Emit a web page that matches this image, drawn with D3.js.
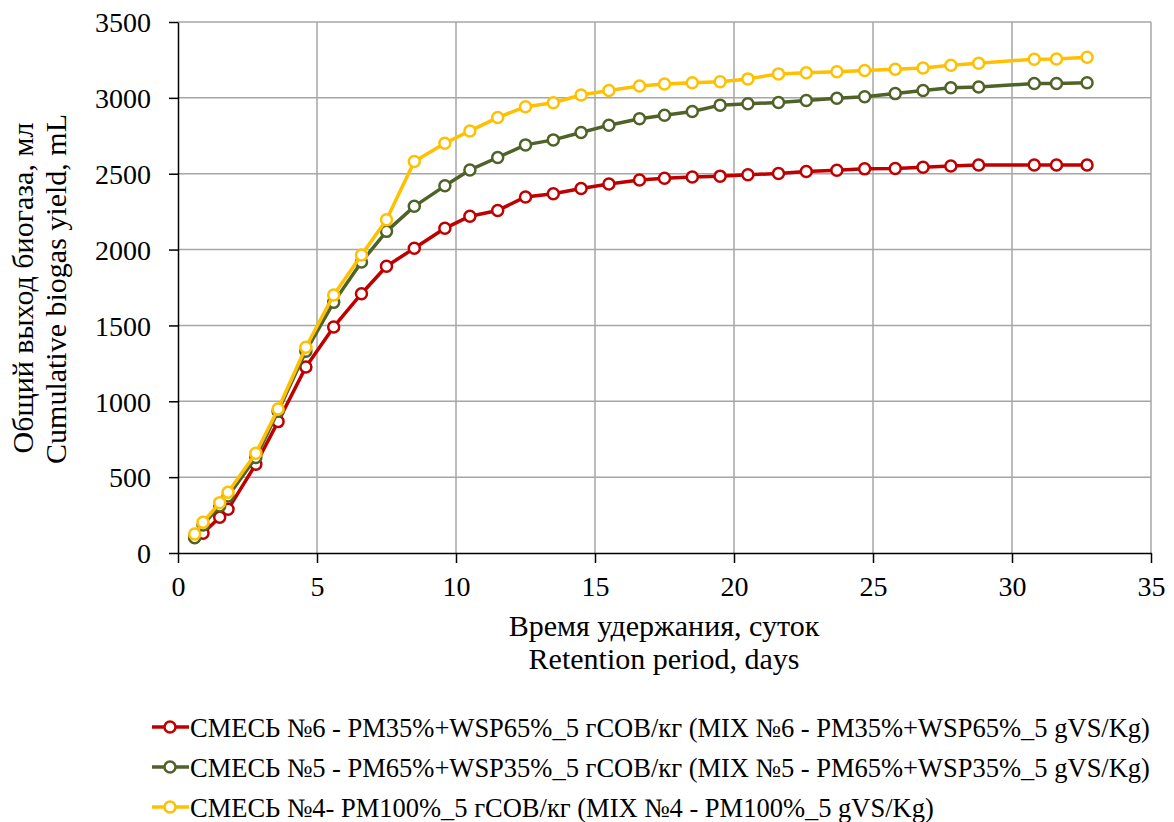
<!DOCTYPE html>
<html><head><meta charset="utf-8">
<script src="https://cdn.jsdelivr.net/npm/d3@7"></script>
<style>body{margin:0;background:#fff}svg{display:block}</style>
</head><body><svg id="c" width="1174" height="822"></svg>
<script>
const days = [0.6,0.9,1.5,1.8,2.8,3.6,4.6,5.6,6.6,7.5,8.5,9.6,10.5,11.5,12.5,13.5,14.5,15.5,16.6,17.5,18.5,19.5,20.5,21.6,22.6,23.7,24.7,25.8,26.8,27.8,28.8,30.8,31.6,32.7];
const mix6 = [105,130,235,288,585,866,1226,1490,1709,1890,2009,2140,2220,2258,2347,2368,2402,2432,2459,2470,2478,2484,2493,2502,2515,2523,2532,2534,2543,2551,2557,2558,2558,2558];
const mix5 = [100,185,310,375,630,935,1330,1652,1918,2120,2285,2420,2525,2607,2690,2723,2772,2820,2862,2886,2910,2952,2961,2970,2982,2998,3007,3028,3048,3066,3072,3094,3095,3100];
const mix4 = [125,202,332,400,657,949,1356,1701,1964,2196,2580,2701,2782,2870,2942,2968,3019,3048,3078,3092,3100,3106,3125,3158,3166,3172,3180,3189,3197,3215,3228,3255,3256,3268];
const xTicks = [0,5,10,15,20,25,30,35];
const yTicks = [0,500,1000,1500,2000,2500,3000,3500];
const seriesNames = [
 "СМЕСЬ №6 - PM35%+WSP65%_5 гСОВ/кг (MIX №6 - PM35%+WSP65%_5 gVS/Kg)",
 "СМЕСЬ №5 - PM65%+WSP35%_5 гСОВ/кг (MIX №5 - PM65%+WSP35%_5 gVS/Kg)",
 "СМЕСЬ №4- PM100%_5 гСОВ/кг (MIX №4 - PM100%_5 gVS/Kg)"];
const colors = ["#C00000","#4F6228","#FFC000"];
const xTitle = ["Время удержания, суток","Retention period, days"];
const yTitle = ["Общий выход биогаза, мл","Cumulative biogas yield, mL"];

const FONT = "Liberation Serif";
const svg = d3.select("#c");
const L=178,R=1151,T=22,B=553;
const x = d3.scaleLinear().domain([0,35]).range([L,R]);
const y = d3.scaleLinear().domain([0,3500]).range([B,T]);

const g = svg.append("g");
g.selectAll(".gx").data(xTicks.slice(1)).enter().append("line")
 .attr("x1",d=>x(d)).attr("x2",d=>x(d)).attr("y1",T).attr("y2",B)
 .attr("stroke","#a6a6a6").attr("stroke-width",1.5);
g.selectAll(".gy").data(yTicks.slice(1)).enter().append("line")
 .attr("x1",L).attr("x2",R).attr("y1",d=>y(d)).attr("y2",d=>y(d))
 .attr("stroke","#a6a6a6").attr("stroke-width",1.5);

const xa = svg.append("g").attr("transform",`translate(0,${B})`)
 .call(d3.axisBottom(x).tickValues(xTicks).tickFormat(d3.format("d")).tickSize(10).tickSizeOuter(0));
const ya = svg.append("g").attr("transform",`translate(${L},0)`)
 .call(d3.axisLeft(y).tickValues(yTicks).tickFormat(d3.format("d")).tickSize(9).tickSizeOuter(0));
[xa,ya].forEach(a=>{
 a.attr("font-family",FONT).attr("font-size",28);
 a.selectAll("path,line").attr("stroke","#000").attr("stroke-width",1.5);
 a.selectAll("text").attr("fill","#000");
});
xa.selectAll("text").attr("y",43).attr("dy",0);
ya.selectAll("text").attr("x",-27).attr("dy","0.35em");

const all=[mix6,mix5,mix4];
all.forEach((s,i)=>{
 const data = days.map((d,j)=>[d,s[j]]);
 svg.append("path").datum(data)
  .attr("d",d3.line().x(d=>x(d[0])).y(d=>y(d[1])))
  .attr("fill","none").attr("stroke",colors[i]).attr("stroke-width",3.5).attr("stroke-linejoin","round");
 svg.append("g").selectAll("circle").data(data).enter().append("circle")
  .attr("cx",d=>x(d[0])).attr("cy",d=>y(d[1])).attr("r",5.5)
  .attr("fill","#fff").attr("stroke",colors[i]).attr("stroke-width",2.5);
});

function txt(xp,yp,s,size,rot){
 const t=svg.append("text").attr("text-anchor","middle").attr("font-family",FONT).attr("font-size",size).attr("fill","#000").text(s);
 if(rot) t.attr("transform",`translate(${xp},${yp}) rotate(-90)`); else t.attr("x",xp).attr("y",yp);
 return t;
}
txt(664,636,xTitle[0],30);
txt(664,669,xTitle[1],30);
txt(33,288,yTitle[0],30,true);
txt(66,289,yTitle[1],30,true);

const ly=[727,767,807];
seriesNames.forEach((n,i)=>{
 const lg=svg.append("g");
 lg.append("line").attr("x1",152).attr("x2",189).attr("y1",ly[i]).attr("y2",ly[i]).attr("stroke",colors[i]).attr("stroke-width",3.5);
 lg.append("circle").attr("cx",170).attr("cy",ly[i]).attr("r",5.5).attr("fill","#fff").attr("stroke",colors[i]).attr("stroke-width",2.5);
 lg.append("text").attr("x",190).attr("y",ly[i]+9.5).attr("font-family",FONT).attr("font-size",26.5).attr("fill","#000").text(n);
});
</script></body></html>
